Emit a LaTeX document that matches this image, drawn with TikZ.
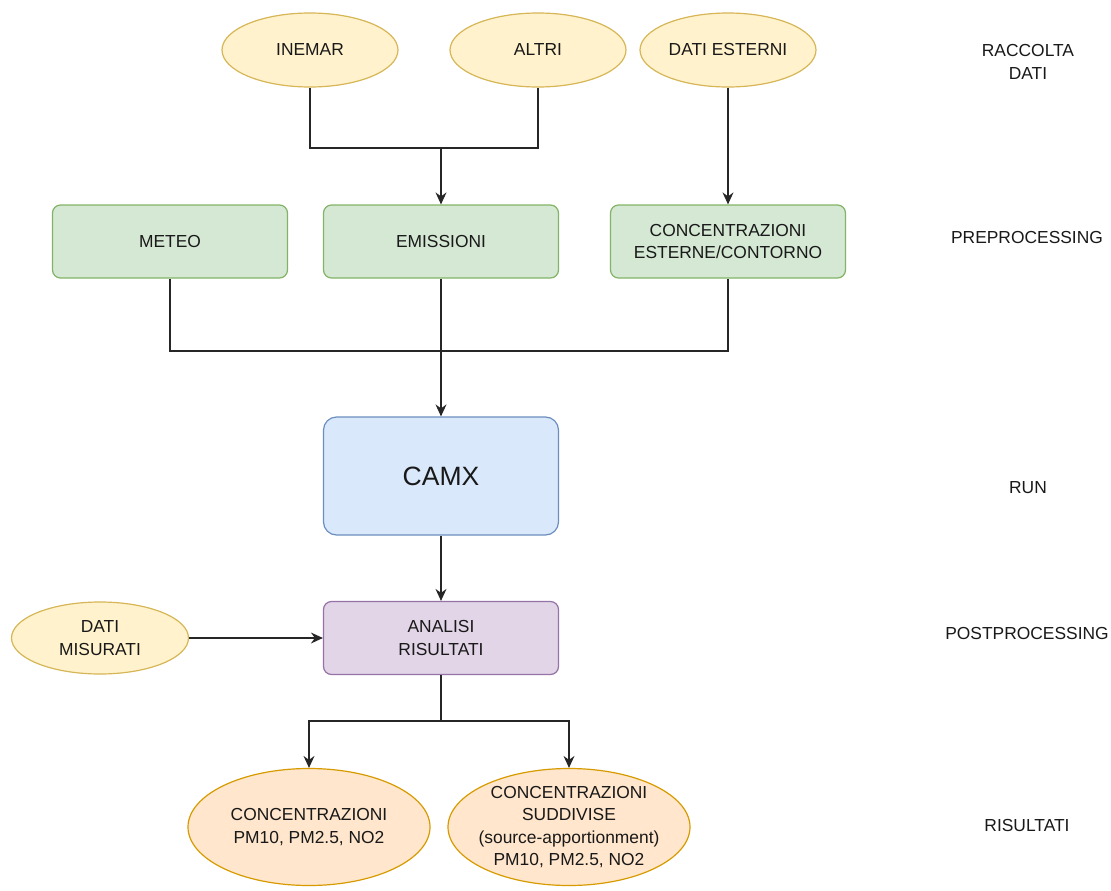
\documentclass[tikz,border=0pt]{standalone}
\usepackage{fontspec}
\setmainfont{Liberation Sans}
\usetikzlibrary{arrows.meta,shapes.geometric}
\definecolor{ylw}{HTML}{FFF2CC}\definecolor{ylwD}{HTML}{D6B656}
\definecolor{grn}{HTML}{D5E8D4}\definecolor{grnD}{HTML}{82B366}
\definecolor{blu}{HTML}{DAE8FC}\definecolor{bluD}{HTML}{6C8EBF}
\definecolor{prp}{HTML}{E1D5E7}\definecolor{prpD}{HTML}{9673A6}
\definecolor{org}{HTML}{FFE6CC}\definecolor{orgD}{HTML}{D79B00}
\begin{document}
\begin{tikzpicture}[x=1pt,y=-1pt,
  base/.style={font=\fontsize{17.4}{22.6}\selectfont, align=center, line width=1.2pt, inner sep=0pt, text=black!90},
  ell/.style={base, ellipse, draw=ylwD, fill=ylw, minimum width=176pt, minimum height=74pt},
  resell/.style={base, ellipse, draw=orgD, fill=org, minimum width=242pt, minimum height=117pt},
  box/.style={base, rectangle, rounded corners=8pt, draw=grnD, fill=grn, minimum width=235pt, minimum height=73pt},
  camxbox/.style={box, draw=bluD, fill=blu, rounded corners=13pt, minimum height=118pt, font=\fontsize{26.5}{30}\selectfont},
  postbox/.style={box, draw=prpD, fill=prp},
  lab/.style={base},
  conn/.style={line width=1.3pt, draw=black!85},
  arr/.style={conn, -{Stealth[length=12pt,width=11pt,inset=4pt]}}]
\useasboundingbox (0,0) rectangle (1111,891);
\node[ell] (inemar) at (310,50) {INEMAR};
\node[ell] (altri) at (538,50) {ALTRI};
\node[ell] (est) at (728,50) {DATI ESTERNI};
\node[lab] (l1) at (1028,62) {RACCOLTA\\DATI};
\node[box] (meteo) at (170,241.5) {METEO};
\node[box] (emis) at (441,241.5) {EMISSIONI};
\node[box] (conc) at (728,241.5) {CONCENTRAZIONI\\ESTERNE/CONTORNO};
\node[lab] (l2) at (1027,238) {PREPROCESSING};
\node[camxbox] (camx) at (441,476) {CAMX};
\node[lab] (l3) at (1028,488) {RUN};
\node[postbox] (anal) at (441,638) {ANALISI\\RISULTATI};
\node[ell, minimum width=177pt, minimum height=72pt] (mis) at (100,638) {DATI\\MISURATI};
\node[lab] (l4) at (1027,634) {POSTPROCESSING};
\node[resell] (r1) at (309,827) {CONCENTRAZIONI\\PM10, PM2.5, NO2};
\node[resell, inner sep=-6pt] (r2) at (569,827) {CONCENTRAZIONI\\SUDDIVISE\\(source-apportionment)\\PM10, PM2.5, NO2};
\node[lab] (l5) at (1027,826) {RISULTATI};
\coordinate (j1) at (441,148);
\draw[conn] (inemar.south) |- (j1) -| (altri.south);
\draw[arr] (j1) -- (emis.north);
\draw[arr] (est.south) -- (conc.north);
\coordinate (j2) at (441,351);
\draw[conn] (meteo.south) |- (j2) -| (conc.south);
\draw[arr] (emis.south) -- (camx.north);
\draw[arr] (camx.south) -- (anal.north);
\draw[arr] (mis.east) -- (anal.west);
\coordinate (j3) at (441,721);
\draw[conn] (anal.south) -- (j3);
\draw[arr] (j3) -| (r1.north);
\draw[arr] (j3) -| (r2.north);
\end{tikzpicture}
\end{document}
